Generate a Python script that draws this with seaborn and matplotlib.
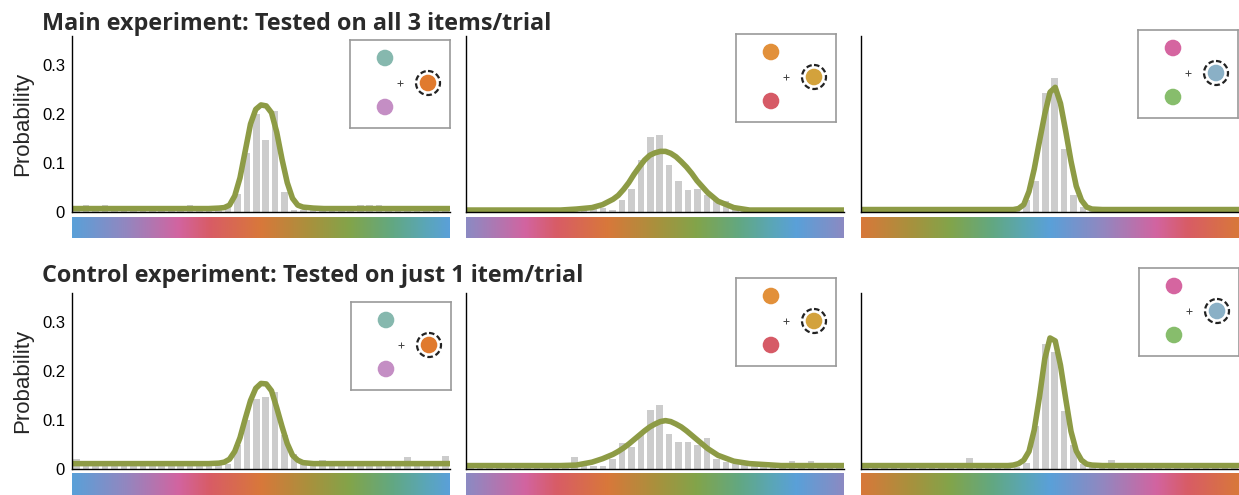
# recreate the two-row response distribution figure
import numpy as np
import pandas as pd
import matplotlib
matplotlib.use('Agg')
import matplotlib.pyplot as plt
from matplotlib.colors import LinearSegmentedColormap
from matplotlib.patches import Circle
import seaborn as sns

# histogram bins: 40 bins of 9 deg from -180 to 180
bin_centers = np.arange(-175.5, 180, 9)

curve_x = [-180, -120, -90, -75, -60, -50, -40, -35, -30, -25, -20, -15, -10, -5, 0,
           5, 10, 15, 20, 25, 30, 35, 40, 50, 60, 75, 90, 120, 180]

# main experiment, bars
main_orange_bars = [.005, .015, .006, .015, .005, .004, .005, .004, .005, .004,
                    .005, .004, .015, .005, .004, .008, .009, .036, .12, .2,
                    .148, .206, .04, .005, .004, .005, .004, .005, .004, .005,
                    .015, .015, .015, .005, .004, .005, .004, .005, .004, .006]
main_gold_bars = [.004, .005, .004, .005, .004, .005, .004, .005, .004, .005,
                  .004, .005, .005, .006, .009, .005, .024, .048, .106, .154,
                  .157, .096, .063, .045, .048, .034, .024, .022, .008, .005,
                  .004, .005, .004, .005, .004, .005, .004, .005, .004, .004]
main_blue_bars = [.004, .004, .004, .004, .004, .004, .004, .004, .004, .004,
                  .004, .004, .004, .004, .004, .004, .004, .024, .063, .243,
                  .275, .129, .034, .01, .004, .004, .004, .004, .004, .004,
                  .004, .004, .004, .004, .004, .004, .004, .004, .004, .004]

# control experiment, bars
ctrl_orange_bars = [.02, .006, .006, .006, .006, .006, .006, .006, .006, .006,
                    .006, .006, .006, .006, .006, .008, .01, .05, .1, .143,
                    .147, .157, .07, .03, .01, .008, .018, .006, .006, .006,
                    .006, .006, .006, .006, .006, .024, .006, .007, .006, .027]
ctrl_gold_bars = [.005, .005, .005, .005, .005, .005, .005, .005, .005, .005,
                  .005, .024, .008, .006, .006, .02, .054, .046, .071, .12,
                  .131, .071, .056, .056, .05, .063, .02, .015, .01, .01,
                  .012, .006, .005, .006, .016, .005, .016, .005, .005, .005]
ctrl_blue_bars = [.005, .013, .005, .005, .005, .005, .005, .005, .005, .005,
                  .013, .023, .005, .005, .005, .005, .005, .013, .088, .256,
                  .24, .119, .049, .01, .005, .005, .018, .005, .005, .005,
                  .005, .005, .005, .005, .005, .005, .005, .005, .005, .005]

# fitted curves
main_orange_fit = [.007, .007, .007, .007, .007, .007, .008, .009, .014, .033, .07, .125, .18, .21, .219,
                   .217, .203, .163, .108, .06, .028, .014, .01, .008, .007, .007, .007, .007, .007]
main_gold_fit = [.004, .004, .004, .006, .009, .015, .026, .034, .046, .06, .077, .092, .106, .116, .121,
                 .124, .124, .12, .113, .103, .092, .079, .064, .04, .022, .009, .004, .004, .004]
main_blue_fit = [.005, .005, .005, .005, .005, .005, .005, .005, .007, .015, .042, .088, .145, .2, .245,
                 .255, .222, .165, .104, .053, .024, .01, .006, .005, .005, .005, .005, .005, .005]
ctrl_orange_fit = [.011, .011, .011, .011, .011, .011, .012, .014, .02, .036, .064, .103, .14, .165, .175,
                   .174, .16, .125, .087, .052, .028, .018, .013, .011, .011, .011, .011, .011, .011]
ctrl_gold_fit = [.007, .007, .007, .008, .014, .021, .03, .036, .043, .051, .06, .069, .078, .086, .092,
                 .097, .099, .097, .092, .086, .078, .069, .06, .042, .028, .016, .011, .007, .007]
ctrl_blue_fit = [.007, .007, .007, .007, .007, .007, .007, .008, .011, .018, .036, .08, .148, .225, .268,
                 .262, .212, .143, .077, .037, .018, .01, .008, .007, .007, .007, .007, .007, .007]

# colour wheel (angle relative to the orange target)
wheel_angles = [-180, -128, -79, -49, 0, 47, 85, 126, 158, 180]
wheel_colors = ['#5aa0d8', '#9486bf', '#d264a0', '#d85c66', '#d8783a',
                '#a8913d', '#82a44a', '#62a882', '#5aa6b8', '#5aa0d8']
wheel_offsets = [0, 45, 180]

# stimulus display colours: two distractors and the probed item
stim_colors = [['#86b8ae', '#c48ec4', '#e07a2e'],
               ['#e2903a', '#d65a66', '#d3a23c'],
               ['#d565a0', '#87bd6c', '#8ab0c6']]

titles = ['Main experiment: Tested on all 3 items/trial',
          'Control experiment: Tested on just 1 item/trial']

rows = [[(main_orange_bars, main_orange_fit), (main_gold_bars, main_gold_fit), (main_blue_bars, main_blue_fit)],
        [(ctrl_orange_bars, ctrl_orange_fit), (ctrl_gold_bars, ctrl_gold_fit), (ctrl_blue_bars, ctrl_blue_fit)]]

sns.set_style('white')
plt.rcParams['font.family'] = ['Liberation Sans', 'DejaVu Sans']

W, H = 1239, 495
fig = plt.figure(figsize=(W / 100, H / 100), dpi=100)


def fig_rect(left, top, width, height):
    return [left / W, 1 - (top + height) / H, width / W, height / H]


wheel = LinearSegmentedColormap.from_list(
    'wheel', list(zip([(a + 180) / 360 for a in wheel_angles], wheel_colors)))

col_left = [72, 466, 861]
row_top = [36, 293]
axis_w, axis_h = 378, 176
cbar_top = [217, 473]
box_pos = [[(350, 40), (736, 34), (1138, 30)],
           [(351, 302), (736, 278), (1139, 268)]]
title_base = [30, 281.5]

for r, row in enumerate(rows):
    fig.text(42 / W, 1 - title_base[r] / H, titles[r], fontsize=16.8, fontweight='bold',
             family=['Open Sans', 'DejaVu Sans'], color='#2a2a2a', va='baseline')
    for c, (bars, fit) in enumerate(row):
        ax = fig.add_axes(fig_rect(col_left[c], row_top[r], axis_w, axis_h))
        df = pd.DataFrame({'error': bin_centers, 'prob': bars})
        sns.barplot(data=df, x='error', y='prob', native_scale=True, width=0.7,
                    color='#cccccc', saturation=1, errorbar=None, linewidth=0, ax=ax)
        sns.lineplot(x=curve_x, y=fit, color='#8d9b45', linewidth=4, ax=ax)
        ax.set_xlim(-180, 180)
        ax.set_ylim(0, 0.36)
        ax.set_axisbelow(True)
        sns.despine(ax=ax)
        for s in ['left', 'bottom']:
            ax.spines[s].set_color('black')
            ax.spines[s].set_linewidth(1)
        ax.set_xticks([-150, -100, -50, 0, 50, 100, 150])
        ax.set_xticklabels([])
        ax.set_yticks([0, 0.1, 0.2, 0.3])
        ax.tick_params(direction='in', length=3.5, width=1, colors='black', labelsize=12, pad=5)
        ax.set_xlabel('')
        if c == 0:
            ax.set_yticklabels(['0', '0.1', '0.2', '0.3'])
            ax.set_ylabel('Probability', fontsize=16, labelpad=6)
        else:
            ax.set_yticklabels([])
            ax.set_ylabel('')

        # colour wheel strip under the axis
        cax = fig.add_axes(fig_rect(col_left[c], cbar_top[r], axis_w, 495 - cbar_top[r] if r else 21))
        xs = np.linspace(-180, 180, 721)
        ang = (xs + wheel_offsets[c] + 180) % 360
        cax.imshow(wheel(ang / 360)[None, :, :], aspect='auto', extent=[-180, 180, 0, 1])
        cax.axis('off')

        # stimulus inset
        bx, by = box_pos[r][c]
        iax = fig.add_axes(fig_rect(bx, by, 100, 88))
        iax.set_xlim(0, 100)
        iax.set_ylim(88, 0)
        iax.set_xticks([])
        iax.set_yticks([])
        for s in iax.spines.values():
            s.set_visible(True)
            s.set_color('#9a9a9a')
            s.set_linewidth(1.2)
        d1, d2, tgt = stim_colors[c]
        iax.add_patch(Circle((35, 18), 8.3, color=d1, lw=0))
        iax.add_patch(Circle((35, 67), 8.3, color=d2, lw=0))
        iax.add_patch(Circle((78, 43), 8.3, color=tgt, lw=0))
        iax.add_patch(Circle((78, 43), 12, fill=False, ls=(0, (2.5, 1.3)), lw=1.6, ec='#222222'))
        iax.plot(50, 43, marker='+', ms=4, mew=0.7, color='#444444')

plt.savefig('out.png', dpi=100)
